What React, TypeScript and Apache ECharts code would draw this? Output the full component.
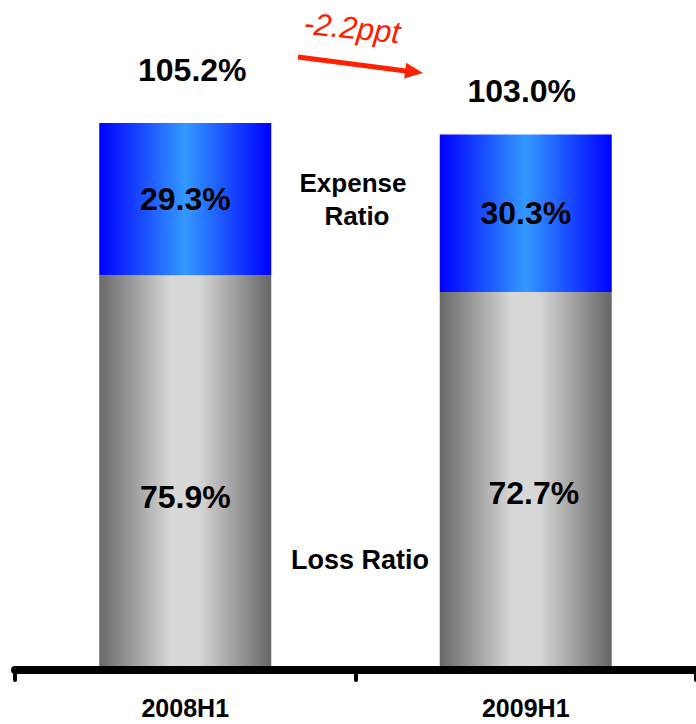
import React, { useEffect, useRef } from "react";
import * as echarts from "echarts";

const categories = ["2008H1", "2009H1"];
const lossRatio = [75.9, 72.7];
const expenseRatio = [29.3, 30.3];
const combinedRatio = [105.2, 103.0];
const changeLabel = "-2.2ppt";

const FONT = "'Liberation Sans', Arial, Helvetica, sans-serif";
const lossLabelOffsets = [
  [0, 24],
  [8, 12],
];
const totalLabelOffsets = [
  [7, -53],
  [-4, -43],
];

const fmt = (v: number) => v.toFixed(1) + "%";

export default function App() {
  const ref = useRef<HTMLDivElement>(null);
  useEffect(() => {
    if (!ref.current) return;
    const chart = echarts.init(ref.current, null, { renderer: "svg" });
    const greyGrad = new echarts.graphic.LinearGradient(0, 0, 1, 0, [
      { offset: 0, color: "#686868" },
      { offset: 0.42, color: "#d8d8d8" },
      { offset: 0.58, color: "#d6d6d6" },
      { offset: 1, color: "#666666" },
    ]);
    const blueGrad = new echarts.graphic.LinearGradient(0, 0, 1, 0, [
      { offset: 0, color: "#0000ff" },
      { offset: 0.5, color: "#3399ff" },
      { offset: 1, color: "#0000ff" },
    ]);
    const valueLabel = {
      show: true,
      fontFamily: FONT,
      fontWeight: "bold" as const,
      fontSize: 32,
      color: "#000",
      formatter: (p: any) => fmt(Number(p.value)),
    };
    chart.setOption({
      animation: false,
      backgroundColor: "#ffffff",
      grid: { left: 15, right: 0, top: 46, bottom: 54, containLabel: false },
      xAxis: {
        type: "category",
        data: categories,
        z: 5,
        axisLine: { show: true, lineStyle: { color: "#000", width: 8 } },
        axisTick: {
          show: true,
          length: 10,
          lineStyle: { color: "#000", width: 4, cap: "round" },
        },
        axisLabel: {
          fontFamily: FONT,
          fontWeight: "bold",
          fontSize: 25,
          color: "#000",
          margin: 25,
        },
        splitLine: { show: false },
      },
      yAxis: { type: "value", min: 0, max: 120, show: false },
      series: [
        {
          name: "Loss Ratio",
          type: "bar",
          stack: "ratio",
          barWidth: 172,
          itemStyle: { color: greyGrad },
          label: { ...valueLabel, position: "inside" },
          data: lossRatio.map((v, i) => ({
            value: v,
            label: { offset: lossLabelOffsets[i] },
          })),
        },
        {
          name: "Expense Ratio",
          type: "bar",
          stack: "ratio",
          barWidth: 172,
          itemStyle: { color: blueGrad },
          label: { ...valueLabel, position: "inside" },
          data: expenseRatio,
        },
        {
          name: "Combined Ratio",
          type: "scatter",
          symbolSize: 0,
          z: 6,
          itemStyle: { opacity: 1, color: "#000" },
          label: { ...valueLabel, position: "inside", opacity: 1 },
          data: combinedRatio.map((v, i) => ({
            value: v,
            label: { offset: totalLabelOffsets[i] },
          })),
        },
      ],
      graphic: [
        {
          type: "text",
          x: 353,
          y: 183,
          style: {
            text: "Expense",
            font: `bold 26px ${FONT}`,
            fill: "#000",
            align: "center",
            verticalAlign: "middle",
          },
        },
        {
          type: "text",
          x: 357,
          y: 216,
          style: {
            text: "Ratio",
            font: `bold 26px ${FONT}`,
            fill: "#000",
            align: "center",
            verticalAlign: "middle",
          },
        },
        {
          type: "text",
          x: 360,
          y: 560,
          style: {
            text: "Loss Ratio",
            font: `bold 27px ${FONT}`,
            fill: "#000",
            align: "center",
            verticalAlign: "middle",
          },
        },
        {
          type: "text",
          x: 352,
          y: 28,
          rotation: -0.1,
          style: {
            text: changeLabel,
            font: `italic 31px ${FONT}`,
            fill: "#ff1a00",
            align: "center",
            verticalAlign: "middle",
          },
        },
        {
          type: "line",
          shape: { x1: 298, y1: 57, x2: 406, y2: 71 },
          style: { stroke: "#ff2200", lineWidth: 5 },
        },
        {
          type: "polygon",
          shape: {
            points: [
              [423, 73],
              [404.1, 78.6],
              [406.2, 62.7],
            ],
          },
          style: { fill: "#ff2200" },
        },
      ],
    });
    return () => chart.dispose();
  }, []);
  return (
    <div
      ref={ref}
      style={{ position: "fixed", left: 0, top: 0, width: 696, height: 724, background: "#fff" }}
    />
  );
}
